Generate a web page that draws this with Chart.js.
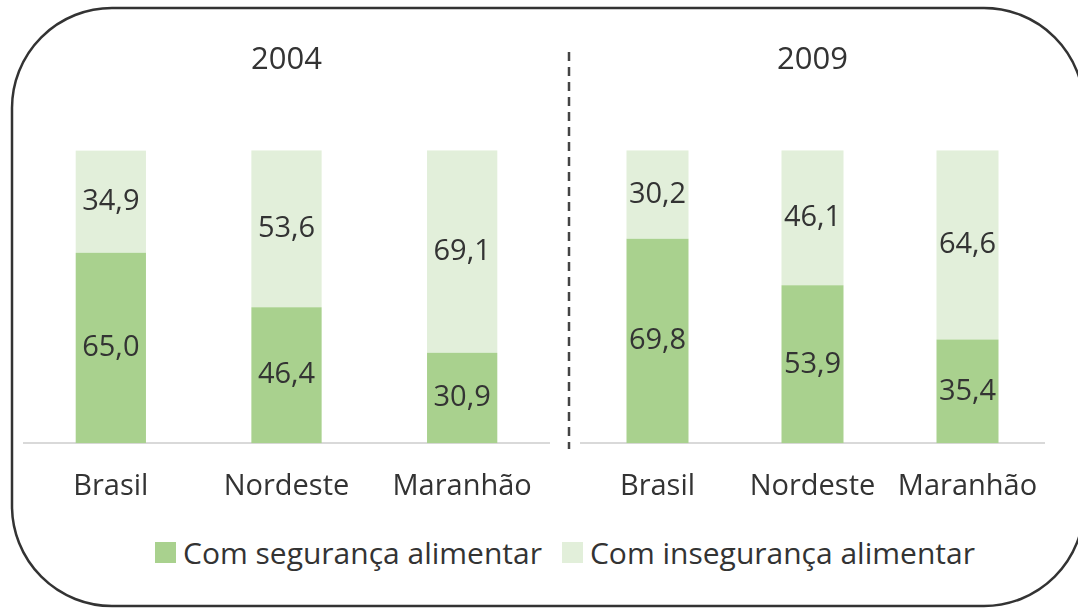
<!DOCTYPE html>
<html>
<head>
<meta charset="utf-8">
<script src="https://cdn.jsdelivr.net/npm/chart.js@4"></script>
<style>
  html, body { margin: 0; padding: 0; background: #fff; overflow: hidden; }
  body { width: 1078px; height: 609px; position: relative; font-family: 'Open Sans', sans-serif; }
  canvas { position: absolute; top: 0; }
  #c2004 { left: 23px; }
  #c2009 { left: 580px; }
  #frame { position: absolute; left: 0; top: 0; }
  #legend { position: absolute; left: 155px; top: 532px; display: flex; align-items: center; color: #333; font-size: 30px; white-space: nowrap; }
  #legend .item { display: flex; align-items: center; margin-right: 20px; }
  #legend .box { width: 21px; height: 21px; margin-right: 7px; }
</style>
</head>
<body>
<svg id="frame" width="1078" height="609">
  <rect x="12" y="8" width="1072" height="598" rx="100" ry="100" fill="none" stroke="#333" stroke-width="2.5"/>
  <line x1="569" y1="52" x2="569" y2="449" stroke="#444" stroke-width="2.5" stroke-dasharray="9 6"/>
</svg>
<canvas id="c2004" width="527" height="504"></canvas>
<canvas id="c2009" width="465" height="504"></canvas>
<div id="legend"></div>
<script>
const categories = ['Brasil', 'Nordeste', 'Maranhão'];
const years = ['2004', '2009'];
const seriesNames = ['Com segurança alimentar', 'Com insegurança alimentar'];
const seriesColors = ['#a9d18e', '#e2efda'];

const seguranca2004 = [65.0, 46.4, 30.9];
const inseguranca2004 = [34.9, 53.6, 69.1];
const seguranca2009 = [69.8, 53.9, 35.4];
const inseguranca2009 = [30.2, 46.1, 64.6];

Chart.defaults.font.family = "'Open Sans', sans-serif";
Chart.defaults.color = '#333';

// numbers in the middle of each segment, with a decimal comma
const valueLabels = {
    id: 'valueLabels',
    afterDatasetsDraw(chart) {
        const ctx = chart.ctx;
        ctx.save();
        ctx.font = "29px 'Open Sans'";
        ctx.fillStyle = '#333';
        ctx.textAlign = 'center';
        ctx.textBaseline = 'middle';
        chart.data.datasets.forEach((ds, i) => {
            chart.getDatasetMeta(i).data.forEach((bar, j) => {
                const txt = ds.data[j].toFixed(1).replace('.', ',');
                ctx.fillText(txt, bar.x, (bar.y + bar.base) / 2);
            });
        });
        ctx.restore();
    }
};

function makePanel(id, year, seg, inseg) {
    return new Chart(document.getElementById(id), {
        type: 'bar',
        data: {
            labels: categories,
            datasets: [
                { label: seriesNames[0], data: seg, backgroundColor: seriesColors[0] },
                { label: seriesNames[1], data: inseg, backgroundColor: seriesColors[1] }
            ].map(d => ({ ...d, borderWidth: 0, barPercentage: 0.4, categoryPercentage: 1.0 }))
        },
        options: {
            responsive: false,
            animation: false,
            devicePixelRatio: 1,
            layout: { padding: 0 },
            plugins: {
                legend: { display: false },
                tooltip: { enabled: false },
                title: {
                    display: true,
                    text: year,
                    color: '#333',
                    font: { size: 31, weight: 'normal' },
                    padding: { top: 42, bottom: 71 }
                }
            },
            scales: {
                x: {
                    stacked: true,
                    // gap under the axis comes from the (hidden) tick length, not from label padding
                    grid: { display: false, drawTicks: true, tickLength: 26 },
                    border: { display: true, color: '#d9d9d9', width: 2 },
                    ticks: { padding: 0, font: { size: 29 }, color: '#333', maxRotation: 0, autoSkip: false }
                },
                y: { stacked: true, display: false, min: 0, max: 100 }
            }
        },
        plugins: [valueLabels]
    });
}

makePanel('c2004', years[0], seguranca2004, inseguranca2004);
makePanel('c2009', years[1], seguranca2009, inseguranca2009);

// legend below both panels
const legend = document.getElementById('legend');
seriesNames.forEach((name, i) => {
    const item = document.createElement('div');
    item.className = 'item';
    item.innerHTML = `<span class="box" style="background:${seriesColors[i]}"></span><span>${name}</span>`;
    legend.appendChild(item);
});
</script>
</body>
</html>
